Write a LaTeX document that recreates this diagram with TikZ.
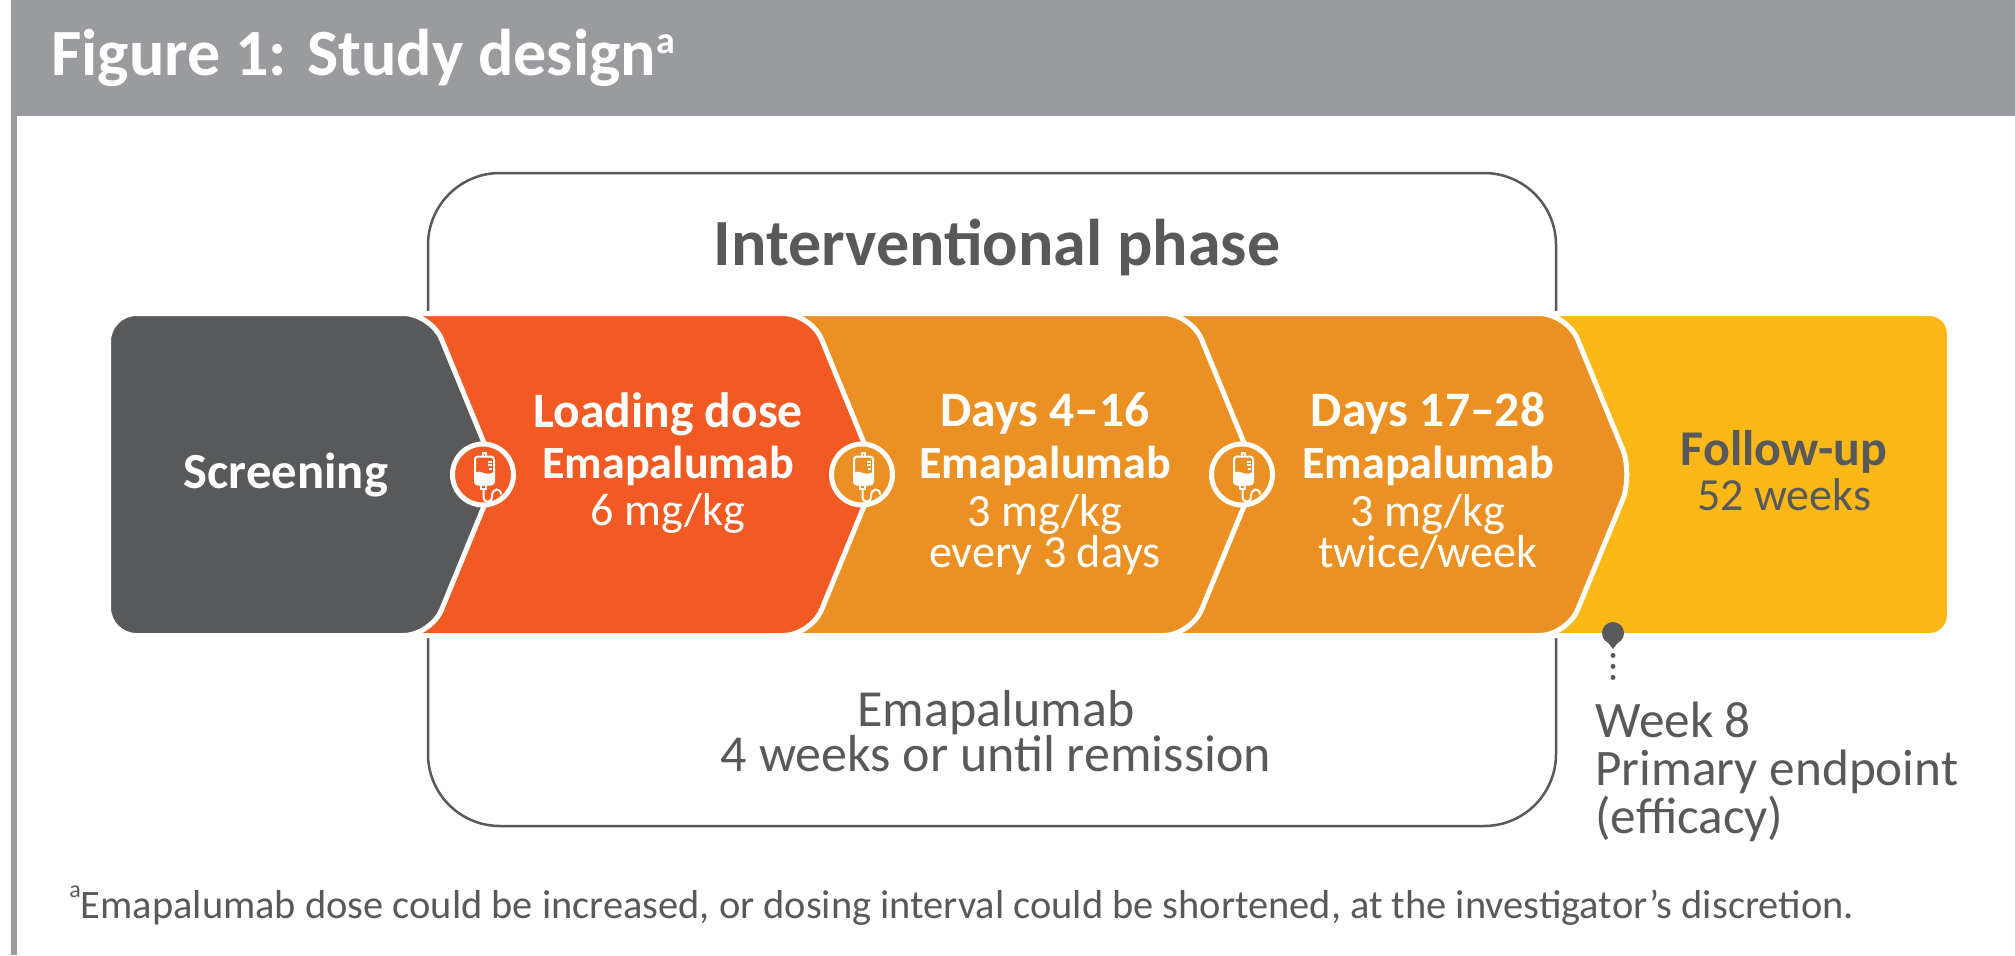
\documentclass[tikz,border=0pt]{standalone}
\usepackage{fontspec}
\setmainfont{Carlito}
\definecolor{hdr}{HTML}{9A9B9F}
\definecolor{dg}{HTML}{58595B}
\definecolor{orA}{HTML}{F15A22}
\definecolor{orB}{HTML}{EB9123}
\definecolor{yel}{HTML}{FBB817}
\tikzset{
  seg/.style={draw=white, line width=2.5pt, rounded corners=14pt},
  ring/.style={circle, draw=white, line width=2.5pt, minimum size=30.5pt, inner sep=0pt},
  wtxt/.style={text=white, anchor=base, inner sep=0pt},
  gtxt/.style={text=dg, anchor=base, inner sep=0pt},
  gltxt/.style={text=dg, anchor=base west, inner sep=0pt},
  hbold/.style={font=\fontsize{24.8}{29}\selectfont\bfseries},
  mbold/.style={font=\fontsize{23.1}{27}\selectfont\bfseries},
  mreg/.style={font=\fontsize{23.1}{27}\selectfont},
  big/.style={font=\fontsize{26}{30}\selectfont},
  wk/.style={font=\fontsize{25.6}{29}\selectfont},
  ivbag/.pic={
    \draw[white, line width=1pt, rounded corners=1.5pt] (-8,-18) rectangle (11,10);
    \draw[white, line width=1pt] (0,-18) -- (0,-22) -- (3,-22) -- (3,-18);
    \fill[white, rounded corners=1pt] (-8,-1) .. controls (-3,-5) and (3,2) .. (11,-3) -- (11,10) -- (-8,10) -- cycle;
    \draw[white, line width=1pt] (5,-13) -- (9,-13) (5,-9.5) -- (9,-9.5) (6,-6) -- (9,-6);
    \draw[white, line width=1pt] (-2,10) rectangle (3,14);
    \draw[white, line width=1pt] (0.5,14) -- (0.5,22) .. controls (0.5,29) and (9,29) .. (9,22) .. controls (9,13) and (18,13) .. (18,20);
  }
}
\begin{document}
\begin{tikzpicture}[x=0.5pt,y=-0.5pt]
\fill[white] (0,0) rectangle (2015,955);
\useasboundingbox (0,0) rectangle (2015,955);
% header and left border
\fill[hdr] (11,0) rectangle (2015,116);
\fill[hdr] (11,116) rectangle (17,955);
\node[anchor=base west, inner sep=0pt, text=white, font=\fontsize{33}{36}\selectfont\bfseries] (title) at (51,75) {Figure 1: Study design\raisebox{0.32em}{\fontsize{19}{22}\selectfont a}};
% interventional phase box
\draw[dg, line width=1.25pt, rounded corners=36pt] (428,173) rectangle (1556,826);
\node[gtxt, font=\fontsize{33}{36}\selectfont\bfseries] (iphase) at (997,265) {Interventional phase};
% band segments (right to left)
\path[seg, fill=yel, rounded corners=10pt] (1488,313.5) -- (1949.5,313.5) -- (1949.5,635.5) -- (1488,635.5) -- cycle;
\path[seg, fill=orB] (1112,313.5) -- (1567,313.5) -- (1633,474.5) -- (1567,635.5) -- (1112,635.5) -- cycle;
\path[seg, fill=orB] (732,313.5) -- (1191,313.5) -- (1257,474.5) -- (1191,635.5) -- (732,635.5) -- cycle;
\path[seg, fill=orA] (351,313.5) -- (811,313.5) -- (877,474.5) -- (811,635.5) -- (351,635.5) -- cycle;
\path[seg, fill=dg] (108.5,474.5) -- (108.5,313.5) -- (431,313.5) -- (497,474.5) -- (431,635.5) -- (108.5,635.5) -- cycle;
% infusion circles
\node[ring, fill=orA] (c1) at (483,474.5) {};
\node[ring, fill=orB] (c2) at (862,474.5) {};
\node[ring, fill=orB] (c3) at (1242,474.5) {};
\pic at (c1.center) {ivbag};
\pic at (c2.center) {ivbag};
\pic at (c3.center) {ivbag};
% segment texts
\node[wtxt, font=\fontsize{25.3}{29}\selectfont\bfseries] (scr) at (286,488) {Screening};
\node[wtxt, hbold] (ld1) at (668,427) {Loading dose};
\node[wtxt, mbold] (ld2) at (668,478) {Emapalumab};
\node[wtxt, mreg] (ld3) at (668,525) {6 mg/kg};
\node[wtxt, hbold] (da1) at (1045,426) {Days 4–16};
\node[wtxt, mbold] (da2) at (1045,478) {Emapalumab};
\node[wtxt, mreg] (da3) at (1045,526) {3 mg/kg};
\node[wtxt, mreg] (da4) at (1045,567) {every 3 days};
\node[wtxt, hbold] (db1) at (1428,426) {Days 17–28};
\node[wtxt, mbold] (db2) at (1428,478) {Emapalumab};
\node[wtxt, mreg] (db3) at (1428,526) {3 mg/kg};
\node[wtxt, mreg] (db4) at (1428,567) {twice/week};
\node[gtxt, font=\fontsize{25}{29}\selectfont\bfseries] (fu1) at (1784,465) {Follow-up};
\node[gtxt, font=\fontsize{23}{27}\selectfont] (fu2) at (1784,510) {52 weeks};
% bottom text in box
\node[gtxt, big] (bt1) at (996,726) {Emapalumab};
\node[gtxt, big] (bt2) at (996,771) {4 weeks or until remission};
% week 8 marker
\node[circle, fill=dg, minimum size=11pt, inner sep=0pt] (pin) at (1613,633) {};
\fill[dg] (1606,640) -- (1620,640) -- (1613,649) -- cycle;
\coordinate (dend) at (1613,688);
\draw[dg, line width=2.5pt, line cap=round, dash pattern=on 0pt off 5.5pt] ([yshift=-5.5pt]pin.south) -- (dend);
\node[gltxt, wk] (w1) at (1595,737) {Week 8};
\node[gltxt, wk] (w2) at (1595,785) {Primary endpoint};
\node[gltxt, wk] (w3) at (1595,833) {(efficacy)};
% footnote
\node[gltxt, font=\fontsize{20.2}{24}\selectfont] (fn) at (69,918) {\raisebox{0.5em}{\fontsize{12}{14}\selectfont a}Emapalumab dose could be increased, or dosing interval could be shortened, at the investigator’s discretion.};
\end{tikzpicture}
\end{document}
